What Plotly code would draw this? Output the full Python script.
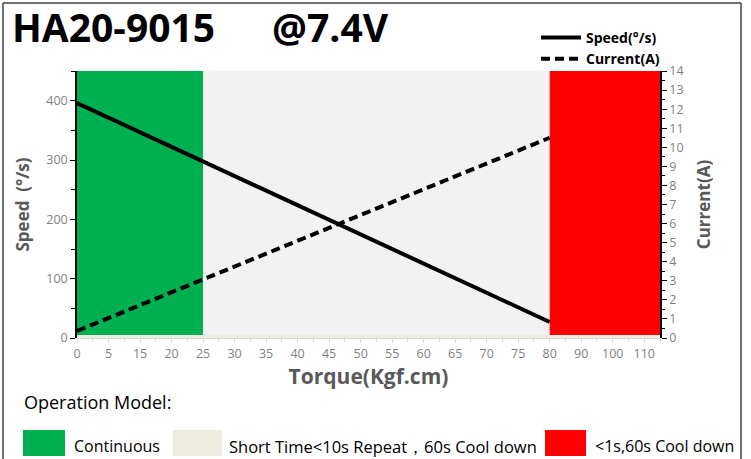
import plotly.graph_objects as go

# ---- data ----
torque_labels = ["0", "5", "15", "20", "25", "30", "35", "40", "45", "50",
                 "55", "60", "65", "70", "75", "80", "90", "100", "110"]
speed_torque = ["0", "80"]
speed_values = [396, 27]          # deg/s
current_torque = ["0", "80"]
current_values = [0.37, 10.5]     # A
continuous_zone = ["0", "25"]
red_zone_start = "80"

speed_ticks = [0, 100, 200, 300, 400]
current_ticks = list(range(0, 15))

pos = {lab: i for i, lab in enumerate(torque_labels)}
XMAX = len(torque_labels) - 0.5

W, H = 751, 459
L, R, T, B = 77, 91, 71, 121
PW, PH = W - L - R, H - T - B


def px(xp):
    return (xp - L) / PW


def py(yp):
    return (H - B - yp) / PH


GRAY = "#595959"
TICK = "#7f7f7f"
FONT = "Open Sans"

fig = go.Figure()

fig.add_trace(go.Scatter(
    x=[pos[t] for t in speed_torque], y=speed_values, mode="lines",
    name="<b>Speed(°/s)</b>", line=dict(color="black", width=4), yaxis="y"))
fig.add_trace(go.Scatter(
    x=[pos[t] for t in current_torque], y=current_values, mode="lines",
    name="<b>Current(A)</b>", line=dict(color="black", width=4, dash="9px,5px"),
    yaxis="y2"))

shapes = []
shapes.append(dict(type="rect", xref="x", yref="y", x0=0, x1=XMAX, y0=0, y1=5,
                   fillcolor="#eeece1", line_width=0, layer="below"))
shapes.append(dict(type="rect", xref="x", yref="y",
                   x0=pos[continuous_zone[0]], x1=pos[continuous_zone[1]], y0=5, y1=450,
                   fillcolor="#00b050", line_width=0, layer="below"))
shapes.append(dict(type="rect", xref="x", yref="y",
                   x0=pos[red_zone_start], x1=XMAX, y0=5, y1=450,
                   fillcolor="#ff0000", line_width=0, layer="below"))
# frame border (left, top, right)
for (xa, ya, xb, yb) in [(3, 3, 3, 459), (3, 3, 741, 3), (741, 3, 741, 459)]:
    shapes.append(dict(type="line", xref="paper", yref="paper",
                       x0=px(xa), y0=py(ya), x1=px(xb), y1=py(yb),
                       line=dict(color="#404040", width=1.5)))
# bottom legend boxes
for (x0, x1, col) in [(23, 65, "#00b050"), (173, 222, "#eeece1"), (545, 586, "#ff0000")]:
    shapes.append(dict(type="rect", xref="paper", yref="paper",
                       x0=px(x0), x1=px(x1), y0=py(456), y1=py(430),
                       fillcolor=col, line_width=0))


def ann(text, x, y, size, color="black"):
    return dict(text=text, xref="paper", yref="paper", x=px(x), y=py(y),
                xanchor="left", yanchor="middle", showarrow=False,
                font=dict(family=FONT, size=size, color=color))


annotations = [
    ann("<b>HA20-9015</b>", 10, 26, 39),
    ann("<b>@7.4V</b>", 270, 26, 39),
    ann("Operation Model:", 22, 402, 18),
    ann("Continuous", 72, 446, 16),
    ann("Short Time<10s Repeat，60s Cool down", 227, 446, 16.5),
    ann("<1s,60s Cool down", 593, 446, 16),
]

fig.update_layout(
    width=W, height=H,
    margin=dict(l=L, r=R, t=T, b=B),
    paper_bgcolor="white", plot_bgcolor="#f2f2f2",
    font=dict(family=FONT, color=TICK, size=12),
    showlegend=True,
    legend=dict(x=px(536), y=py(22), xanchor="left", yanchor="top",
                bgcolor="rgba(0,0,0,0)", font=dict(size=14, color="black", family=FONT),
                tracegroupgap=0, itemwidth=40),
    xaxis=dict(range=[0, XMAX], tickmode="array",
               tickvals=list(range(len(torque_labels))), ticktext=torque_labels,
               showgrid=False, zeroline=False, showline=True, linecolor="#d9d9d9",
               ticks="outside", ticklen=4, tickcolor="#d9d9d9",
               minor=dict(tickvals=[i + 0.5 for i in range(len(torque_labels))],
                          ticks="outside", ticklen=3, tickcolor="#d9d9d9"),
               tickfont=dict(size=12.5, color=TICK),
               title=dict(text="<b>Torque(Kgf.cm)</b>", font=dict(size=21, color=GRAY),
                          standoff=4)),
    yaxis=dict(range=[0, 450], tickvals=speed_ticks, showgrid=False, zeroline=False,
               showline=True, linecolor="black", linewidth=1.5,
               ticks="outside", ticklen=5, tickcolor="black",
               minor=dict(dtick=50, ticks="outside", ticklen=4, tickcolor="black"),
               tickfont=dict(size=12.5, color=TICK),
               title=dict(text="<b>Speed  (°/s)</b>", font=dict(size=17, color=GRAY),
                          standoff=12)),
    yaxis2=dict(range=[0, 14], overlaying="y", side="right", anchor="x",
                tickvals=current_ticks, showgrid=False, zeroline=False,
                showline=True, linecolor="black", linewidth=1.5,
                ticks="outside", ticklen=5, tickcolor="black",
                minor=dict(dtick=0.5, ticks="outside", ticklen=3, tickcolor="black"),
                tickfont=dict(size=12.5, color=TICK),
                title=dict(text="<b>Current(A)</b>", font=dict(size=17, color=GRAY),
                           standoff=16)),
    shapes=shapes,
    annotations=annotations,
)

fig.write_html("out.html", config={"displayModeBar": False},
               post_script="document.body.style.margin='0';document.body.style.overflow='hidden';")
